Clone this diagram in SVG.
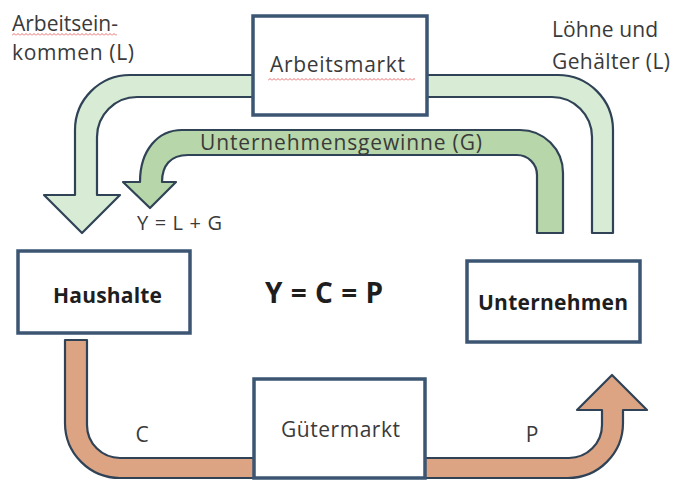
<svg xmlns="http://www.w3.org/2000/svg" width="674" height="481" viewBox="0 0 674 481">
<style>
.box{fill:#ffffff;stroke:#3b5573;stroke-width:3.5}
.arr{stroke:#2f4256;stroke-width:2.2;stroke-linejoin:round}
.lg{fill:#d8ebd4}
.dg{fill:#b7d6a9}
.br{fill:#dca483}
.t{font-family:"Open Sans","Liberation Sans",Arial,sans-serif;fill:#3a3a3a}
.b{font-family:"Open Sans","Liberation Sans",Arial,sans-serif;font-weight:bold;fill:#1e1e1e}
</style>
<defs>
<pattern id="wave" width="4" height="3" patternUnits="userSpaceOnUse">
<path d="M0,2.5 L2,0.5 L4,2.5" fill="none" stroke="#e04848" stroke-width="0.8"/>
</pattern>
</defs>
<rect width="674" height="481" fill="#ffffff"/>
<g id="connectors">
<path id="arrow-L" class="arr lg" d="M613,233 V130 A55,55 0 0 0 558,75 H130 A55,55 0 0 0 75,130 V195 H44 L82,233 L120,195 H97 V137 A40,40 0 0 1 137,97 H552 A40,40 0 0 1 592,137 V233 Z"/>
<path id="arrow-G" class="arr dg" d="M563,233 V173 A43,43 0 0 0 520,130 H182 C158,130 140,150 140,182 H123 L150,208 L176,182 H162 C162,166 170,155 188,155 H517 A20,20 0 0 1 537,175 V233 Z"/>
<path id="arrow-CP" class="arr br" d="M65,340 H87 V425 A33,33 0 0 0 120,458 H569 A33,33 0 0 0 602,425 V410 H577 L612,375 L647,410 H623 V423 A55,55 0 0 1 568,478 H120 A55,55 0 0 1 65,423 Z"/>
<text class="t" x="200" y="150" font-size="21" textLength="282">Unternehmensgewinne (G)</text>
<text class="t" x="137" y="230" font-size="20" textLength="85">Y = L + G</text>
<text class="t" x="142" y="442" font-size="21" text-anchor="middle">C</text>
<text class="t" x="532" y="442" font-size="21" text-anchor="middle">P</text>
</g>
<g id="arbeitsmarkt">
<rect class="box" x="253" y="16" width="174" height="99"/>
<text class="t" x="270" y="72" font-size="21" textLength="135">Arbeitsmarkt</text>
<rect x="268" y="78" width="147" height="3" fill="url(#wave)"/>
</g>
<g id="haushalte">
<rect class="box" x="18" y="251" width="172" height="82"/>
<text class="b" x="53" y="303" font-size="21" textLength="109">Haushalte</text>
</g>
<g id="unternehmen">
<rect class="box" x="467" y="261" width="173" height="81"/>
<text class="b" x="478" y="310" font-size="21" textLength="150">Unternehmen</text>
</g>
<g id="guetermarkt">
<rect class="box" x="254" y="379" width="171" height="99"/>
<text class="t" x="281" y="437" font-size="21" textLength="119">Gütermarkt</text>
</g>
<g id="labels">
<text class="t" x="12" y="31" font-size="21" textLength="106">Arbeitsein-</text>
<rect x="12" y="33" width="105" height="3" fill="url(#wave)"/>
<text class="t" x="12" y="60" font-size="21" textLength="122">kommen (L)</text>
<text class="t" x="552" y="37" font-size="21" textLength="106">Löhne und</text>
<text class="t" x="552" y="69" font-size="21" textLength="118">Gehälter (L)</text>
<text class="b" x="265" y="303" font-size="28" textLength="118">Y = C = P</text>
</g>
</svg>
